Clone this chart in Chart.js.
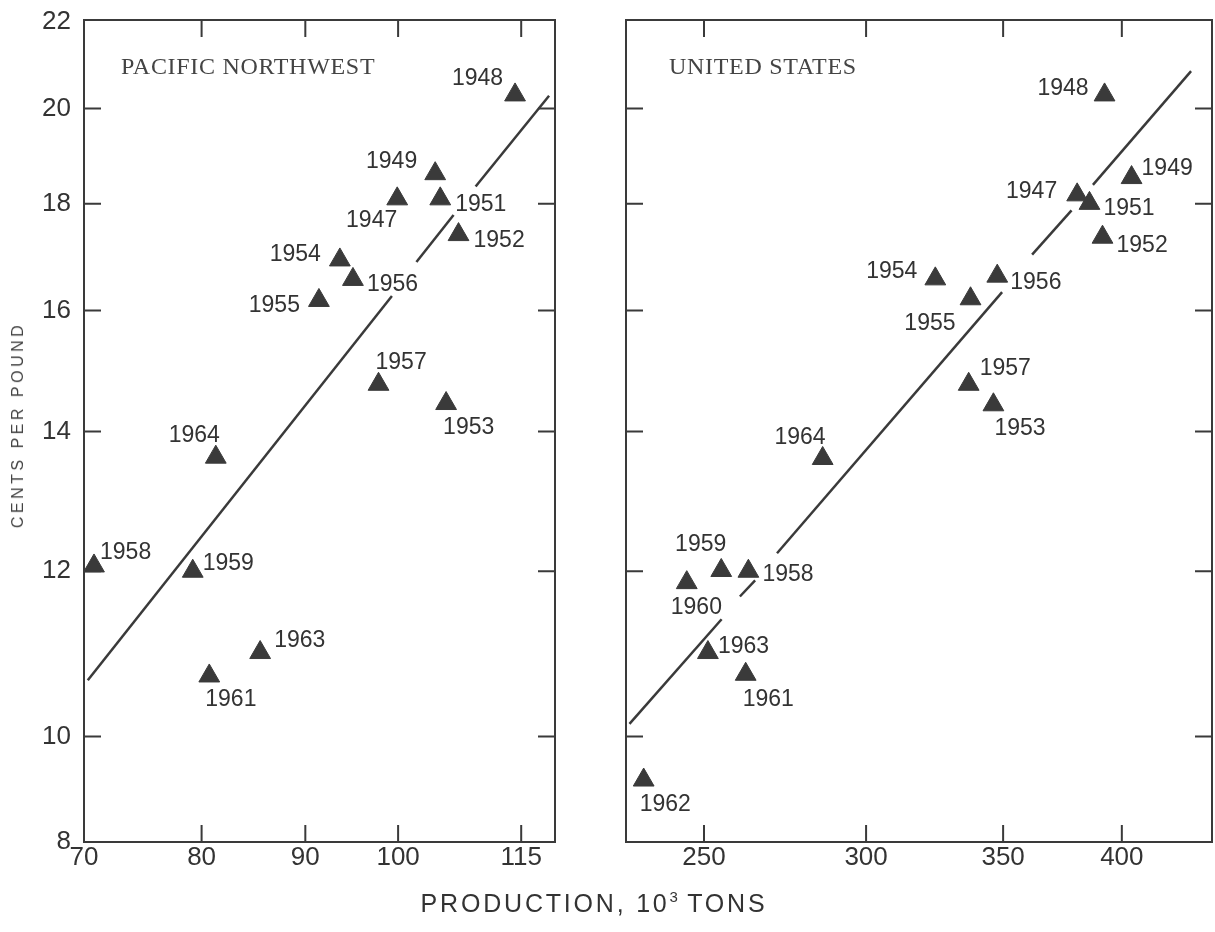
<!DOCTYPE html>
<html>
<head>
<meta charset="utf-8">
<title>Production vs price</title>
<script src="https://cdn.jsdelivr.net/npm/chart.js@4.4.1/dist/chart.umd.min.js"></script>
<style>
  html, body { margin: 0; padding: 0; background: #fff; overflow: hidden; }
  #wrap { position: relative; width: 1215px; height: 932px; overflow: hidden; }
  .panel { position: absolute; top: 0; height: 932px; }
  #pnwBox { left: 0; width: 600px; }
  #usBox { left: 600px; width: 630px; }
  .ytitle {
    position: absolute; left: 18px; top: 425px;
    transform: translate(-50%, -50%) rotate(-90deg);
    font: 16px "Liberation Sans", Arial, sans-serif; letter-spacing: 3.5px;
    color: #444; white-space: nowrap;
  }
  .xtitle {
    position: absolute; left: 594px; top: 903px;
    transform: translate(-50%, -50%);
    font: 25px "Liberation Sans", Arial, sans-serif; letter-spacing: 2.8px;
    color: #333; white-space: nowrap;
  }
  .xtitle sup { font-size: 15px; letter-spacing: 0; }
</style>
</head>
<body>
<div id="wrap">
  <div class="panel" id="pnwBox"><canvas id="chartPNW"></canvas></div>
  <div class="panel" id="usBox"><canvas id="chartUS"></canvas></div>
  <div class="ytitle">CENTS PER POUND</div>
  <div class="xtitle">PRODUCTION, 10<sup>3</sup> TONS</div>
</div>
<script>
// axes (log-log); the y axis is broken at the bottom, where "8" is written
const Y_TICKS = [8, 10, 12, 14, 16, 18, 20, 22];
const Y_RANGE = [8.9, 22.05];
const PNW_X_TICKS = [70, 80, 90, 100, 115];
const PNW_X_RANGE = [70, 119.5];
const US_X_TICKS = [250, 300, 350, 400];
const US_X_RANGE = [229, 442.7];

// Pacific Northwest
const PNW_YEARS = [1947, 1948, 1949, 1951, 1952, 1953, 1954, 1955, 1956, 1957, 1958, 1959, 1961, 1963, 1964];
const PNW_PRODUCTION = [99.9, 114.2, 104.3, 104.9, 107.1, 105.6, 93.6, 91.4, 95.0, 97.8, 70.8, 79.2, 80.7, 85.5, 81.3];
const PNW_PRICE = [18.10, 20.30, 18.61, 18.10, 17.40, 14.44, 16.92, 16.18, 16.56, 14.75, 12.07, 12.00, 10.69, 10.97, 13.61];
// fitted line, drawn in pieces (broken where it crosses labels)
const PNW_FIT_PRODUCTION = [[70.3, 99.3], [102.1, 106.5], [109.2, 118.7]];
const PNW_FIT_PRICE = [[10.64, 16.26], [16.88, 17.78], [18.35, 20.28]];

// United States
const US_YEARS = [1947, 1948, 1949, 1951, 1952, 1953, 1954, 1955, 1956, 1957, 1958, 1959, 1960, 1961, 1962, 1963, 1964];
const US_PRODUCTION = [380.4, 392.3, 404.4, 385.7, 391.4, 346.2, 324.3, 337.4, 347.7, 336.7, 262.8, 254.9, 245.2, 262.0, 233.6, 251.1, 285.7];
const US_PRICE = [18.18, 20.30, 18.53, 18.01, 17.35, 14.42, 16.57, 16.21, 16.62, 14.75, 12.00, 12.01, 11.85, 10.71, 9.53, 10.97, 13.59];
const US_FIT_PRODUCTION = [[229.9, 255.0], [260.3, 264.8], [271.4, 349.6], [361.6, 378.0], [387.2, 432.4]];
const US_FIT_PRICE = [[10.14, 11.38], [11.67, 11.88], [12.24, 16.33], [17.02, 17.87], [18.38, 20.84]];

// year label placement: side of the marker, offset in px
const PNW_LABEL_SIDE = ["L", "L", "L", "R", "R", "R", "L", "L", "R", "R", "R", "R", "R", "R", "L"];
const PNW_LABEL_DX = [0, -12, -18, 15, 15, -3, -19, -19, 14, -3, 6, 10, -4, 14, 4];
const PNW_LABEL_DY = [22, -16, -12, 6, 6, 24, -5, 5, 5, -22, -13, -8, 24, -12, -22];
const US_LABEL_SIDE = ["L", "L", "R", "R", "R", "R", "L", "L", "R", "R", "R", "L", "R", "R", "R", "R", "L"];
const US_LABEL_DX = [-20, -16, 10, 14, 14, 1, -18, -15, 13, 11, 14, 5, -16, -3, -4, 10, 3];
const US_LABEL_DY = [-3, -6, -9, 5, 8, 24, -7, 25, 7, -16, 3, -26, 25, 25, 25, -6, -21];

const INK = "#3a3a3a";
const SANS = "'Liberation Sans', Arial, Helvetica, sans-serif";
const TICK_LEN = 17;

const framePlugin = {
  id: "frame",
  afterDraw(chart, args, o) {
    const { ctx, chartArea: a, scales } = chart;
    ctx.save();
    ctx.strokeStyle = INK;
    ctx.lineWidth = 2;
    ctx.strokeRect(a.left, a.top, a.right - a.left, a.bottom - a.top);

    // inward tick marks on all four sides
    ctx.beginPath();
    o.xTicks.forEach((v) => {
      const px = scales.x.getPixelForValue(v);
      if (px < a.left + 3 || px > a.right - 3) return;
      ctx.moveTo(px, a.bottom);
      ctx.lineTo(px, a.bottom - TICK_LEN);
      ctx.moveTo(px, a.top);
      ctx.lineTo(px, a.top + TICK_LEN);
    });
    Y_TICKS.forEach((v) => {
      const py = scales.y.getPixelForValue(v);
      if (py < a.top + 3 || py > a.bottom - 3) return;
      ctx.moveTo(a.left, py);
      ctx.lineTo(a.left + TICK_LEN, py);
      ctx.moveTo(a.right, py);
      ctx.lineTo(a.right - TICK_LEN, py);
    });
    ctx.stroke();

    ctx.fillStyle = "#444";
    ctx.textBaseline = "middle";
    ctx.textAlign = "left";
    ctx.font = "24px 'Liberation Serif', 'Times New Roman', serif";
    ctx.letterSpacing = "0.7px";
    ctx.fillText(o.title, a.left + o.titleDx, a.top + 48);
    ctx.letterSpacing = "0px";

    // year labels next to each marker
    ctx.fillStyle = "#333";
    ctx.font = "23px " + SANS;
    chart.getDatasetMeta(0).data.forEach((pt, i) => {
      ctx.textAlign = o.side[i] === "L" ? "right" : "left";
      ctx.fillText(String(o.years[i]), pt.x + o.dx[i], pt.y + o.dy[i]);
    });
    ctx.restore();
  },
};

function makePanel(id, cfg) {
  const ctx = document.getElementById(id);
  const datasets = [
    {
      data: cfg.xs.map((x, i) => ({ x, y: cfg.ys[i] })),
      pointStyle: "triangle",
      pointRadius: 12,
      backgroundColor: INK,
      borderColor: INK,
      borderWidth: 1,
    },
  ];
  cfg.fitX.forEach((seg, k) => {
    datasets.push({
      type: "line",
      data: seg.map((x, j) => ({ x, y: cfg.fitY[k][j] })),
      borderColor: INK,
      borderWidth: 2.5,
      pointRadius: 0,
      fill: false,
      tension: 0,
    });
  });
  new Chart(ctx, {
    type: "scatter",
    data: { datasets },
    options: {
      responsive: true,
      maintainAspectRatio: false,
      animation: false,
      events: [],
      layout: { padding: { left: 0, right: cfg.padRight, top: 20, bottom: 0 } },
      plugins: {
        legend: { display: false },
        tooltip: { enabled: false },
        frame: {
          title: cfg.title,
          titleDx: cfg.titleDx,
          xTicks: cfg.xTicks,
          years: cfg.years,
          side: cfg.side,
          dx: cfg.dx,
          dy: cfg.dy,
        },
      },
      scales: {
        x: {
          type: "logarithmic",
          min: cfg.xRange[0],
          max: cfg.xRange[1],
          afterBuildTicks: (s) => {
            s.ticks = cfg.xTicks.map((v) => ({ value: v }));
          },
          afterFit: (s) => {
            s.height = 90;
          },
          grid: { display: false, drawTicks: false },
          border: { display: false },
          ticks: {
            color: "#333",
            font: { family: SANS, size: 26 },
            padding: 0,
            autoSkip: false,
            maxRotation: 0,
            callback: (v) => String(v),
          },
        },
        y: {
          type: "logarithmic",
          min: Y_RANGE[0],
          max: Y_RANGE[1],
          afterBuildTicks: (s) => {
            s.ticks = Y_TICKS.map((v) => ({ value: Math.max(v, Y_RANGE[0]) }));
          },
          afterFit: (s) => {
            s.width = cfg.yWidth;
          },
          grid: { display: false, drawTicks: false },
          border: { display: false },
          ticks: {
            display: cfg.yLabels,
            color: "#333",
            font: { family: SANS, size: 26, lineHeight: 0.5 },
            padding: 13,
            autoSkip: false,
            callback: (v, i) => String(Y_TICKS[i]),
          },
        },
      },
    },
    plugins: [framePlugin],
  });
}

makePanel("chartPNW", {
  title: "PACIFIC NORTHWEST",
  titleDx: 37,
  xs: PNW_PRODUCTION,
  ys: PNW_PRICE,
  years: PNW_YEARS,
  fitX: PNW_FIT_PRODUCTION,
  fitY: PNW_FIT_PRICE,
  xTicks: PNW_X_TICKS,
  xRange: PNW_X_RANGE,
  side: PNW_LABEL_SIDE,
  dx: PNW_LABEL_DX,
  dy: PNW_LABEL_DY,
  yWidth: 84,
  yLabels: true,
  padRight: 45,
});

makePanel("chartUS", {
  title: "UNITED STATES",
  titleDx: 43,
  xs: US_PRODUCTION,
  ys: US_PRICE,
  years: US_YEARS,
  fitX: US_FIT_PRODUCTION,
  fitY: US_FIT_PRICE,
  xTicks: US_X_TICKS,
  xRange: US_X_RANGE,
  side: US_LABEL_SIDE,
  dx: US_LABEL_DX,
  dy: US_LABEL_DY,
  yWidth: 26,
  yLabels: false,
  padRight: 18,
});
</script>
</body>
</html>
